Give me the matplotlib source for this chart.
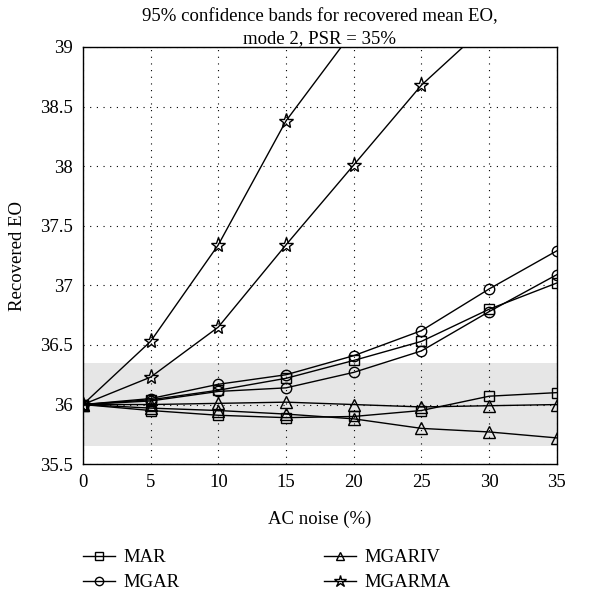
import matplotlib
matplotlib.use("Agg")
import matplotlib.pyplot as plt

plt.rcParams['font.family'] = ['Liberation Serif', 'DejaVu Serif']

noise = [0, 5, 10, 15, 20, 25, 30, 35]

mar_hi = [36.0, 36.04, 36.12, 36.22, 36.37, 36.53, 36.80, 37.02]
mar_lo = [36.0, 35.95, 35.91, 35.89, 35.90, 35.95, 36.07, 36.10]
mgar_hi = [36.0, 36.05, 36.17, 36.25, 36.41, 36.62, 36.97, 37.29]
mgar_lo = [36.0, 36.03, 36.11, 36.14, 36.27, 36.45, 36.78, 37.09]
mgariv_hi = [36.0, 36.00, 36.01, 36.02, 36.00, 35.98, 35.99, 36.00]
mgariv_lo = [36.0, 35.97, 35.95, 35.92, 35.88, 35.80, 35.77, 35.72]
mgarma_hi = [36.0, 36.53, 37.34, 38.38, 39.14, 39.9, 40.7, 41.5]
mgarma_lo = [36.0, 36.23, 36.65, 37.34, 38.01, 38.68, 39.2, 39.8]

band = (35.65, 36.35)

fs = 13.5

fig = plt.figure(figsize=(6.14, 6.02), dpi=100)
ax = fig.add_axes([0.135, 0.229, 0.772, 0.693])

ax.axhspan(band[0], band[1], color='#e6e6e6', zorder=0, lw=0)

style = dict(color='black', lw=1.0, mfc='none', mec='black', mew=1.0)
ax.plot(noise, mar_hi, marker='s', ms=6.5, label='MAR', **style)
ax.plot(noise, mar_lo, marker='s', ms=6.5, **style)
ax.plot(noise, mgar_hi, marker='o', ms=7.5, label='MGAR', **style)
ax.plot(noise, mgar_lo, marker='o', ms=7.5, **style)
ax.plot(noise, mgariv_hi, marker='^', ms=8, label='MGARIV', **style)
ax.plot(noise, mgariv_lo, marker='^', ms=8, **style)
ax.plot(noise, mgarma_hi, marker='*', ms=11, label='MGARMA', **style)
ax.plot(noise, mgarma_lo, marker='*', ms=11, **style)

ax.set_xlim(0, 35)
ax.set_ylim(35.5, 39)
ax.set_xticks(noise)
ax.set_yticks([35.5, 36, 36.5, 37, 37.5, 38, 38.5, 39])
ax.set_yticklabels(['35.5', '36', '36.5', '37', '37.5', '38', '38.5', '39'])
ax.grid(True, color='black', linestyle=(0, (1, 5)), lw=0.8)
ax.tick_params(length=0, labelsize=fs, pad=7)
for s in ax.spines.values():
    s.set_linewidth(1.0)

ax.set_xlabel('AC noise (%)', fontsize=fs, labelpad=14)
ax.set_ylabel('Recovered EO', fontsize=fs, labelpad=10)
ax.set_title('95% confidence bands for recovered mean EO,\nmode 2, PSR = 35%', fontsize=fs, pad=1, linespacing=1.4)

handles, labels = ax.get_legend_handles_labels()
fig.legend(handles, labels, ncol=2, loc='upper left', bbox_to_anchor=(0.135, 0.088),
           frameon=False, fontsize=fs, handlelength=1.7, handletextpad=0.45,
           columnspacing=7.7, labelspacing=0.42, markerscale=0.8,
           borderaxespad=0, borderpad=0)

fig.savefig('out.png', dpi=100)
